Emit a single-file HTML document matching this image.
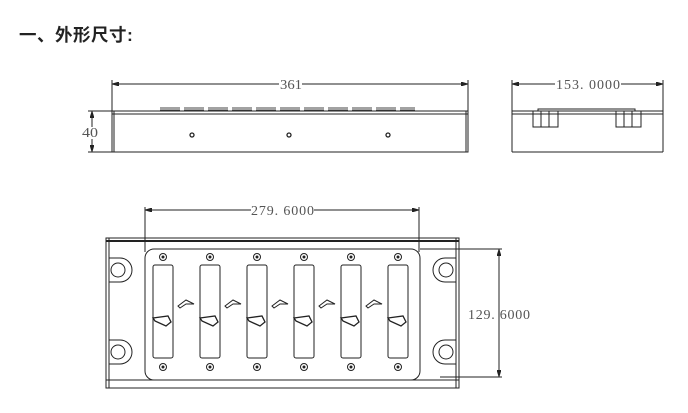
<!DOCTYPE html>
<html><head><meta charset="utf-8"><style>
body{margin:0;background:#fff;width:688px;height:413px;overflow:hidden;position:relative}
.t{position:absolute;left:19px;top:22px;font:bold 17.5px "Liberation Sans","Noto Sans CJK SC",sans-serif;color:#222;letter-spacing:0.5px}
</style></head><body>
<div class="t">一、外形尺寸:</div>
<svg width="688" height="413" style="position:absolute;left:0;top:0" fill="none" stroke="#222" stroke-width="1">
<defs><marker id="a" viewBox="0 0 10 6" refX="10" refY="3" markerWidth="8" markerHeight="4" orient="auto-start-reverse"><path d="M0 0L10 3L0 6z" fill="#222"/></marker></defs>
<g font-family="Liberation Serif,serif" font-size="14" fill="#555" stroke="none">
<text x="280" y="89" textLength="22" lengthAdjust="spacingAndGlyphs">361</text><text x="82" y="137" textLength="16" lengthAdjust="spacingAndGlyphs">40</text>
<text x="556" y="89" textLength="64" lengthAdjust="spacing">153. 0000</text><text x="251" y="215" textLength="63" lengthAdjust="spacing">279. 6000</text>
<text x="468" y="319" textLength="62" lengthAdjust="spacing">129. 6000</text></g>
<!-- front view -->
<line x1="112" y1="84" x2="279" y2="84" marker-start="url(#a)"/><line x1="302" y1="84" x2="468" y2="84" marker-end="url(#a)"/>
<line x1="112" y1="80" x2="112" y2="111"/><line x1="468" y1="80" x2="468" y2="111"/>
<rect x="112" y="111" width="356" height="41"/><line x1="112" y1="114" x2="468" y2="114"/>
<line x1="114" y1="111" x2="114" y2="152"/><line x1="466" y1="111" x2="466" y2="152"/>
<g stroke="#444"><path d="M160 108H180M184 108H204M208 108H228M232 108H252M256 108H276M280 108H300M304 108H324M328 108H348M352 108H372M376 108H396M400 108H415"/><path d="M160 110H415" stroke-dasharray="20 4"/></g>
<line x1="92" y1="111" x2="92" y2="127" marker-start="url(#a)"/><line x1="92" y1="139" x2="92" y2="152" marker-end="url(#a)"/>
<line x1="88" y1="111" x2="112" y2="111"/><line x1="88" y1="152" x2="112" y2="152"/>
<circle cx="192" cy="135" r="2" stroke-width="1.3"/><circle cx="289" cy="135" r="2" stroke-width="1.3"/><circle cx="388" cy="135" r="2" stroke-width="1.3"/>
<!-- side view -->
<line x1="512" y1="84" x2="555" y2="84" marker-start="url(#a)"/><line x1="621" y1="84" x2="663" y2="84" marker-end="url(#a)"/>
<line x1="512" y1="80" x2="512" y2="152"/><line x1="663" y1="80" x2="663" y2="152"/>
<line x1="512" y1="152" x2="663" y2="152"/><line x1="512" y1="111" x2="663" y2="111"/><line x1="512" y1="114" x2="663" y2="114"/>
<rect x="538" y="109" width="97" height="2"/>
<rect x="533" y="111" width="25" height="16"/><line x1="541" y1="111" x2="541" y2="127"/><line x1="549" y1="111" x2="549" y2="127"/>
<rect x="616" y="111" width="25" height="16"/><line x1="624" y1="111" x2="624" y2="127"/><line x1="632" y1="111" x2="632" y2="127"/>
<!-- bottom view -->
<line x1="145" y1="210" x2="251" y2="210" marker-start="url(#a)"/><line x1="314" y1="210" x2="419" y2="210" marker-end="url(#a)"/>
<line x1="145" y1="207" x2="145" y2="252"/><line x1="419" y1="207" x2="419" y2="252"/>
<rect x="106" y="238" width="353" height="150"/><line x1="106" y1="241" x2="459" y2="241" stroke-width="2"/>
<line x1="106" y1="380" x2="459" y2="380"/><line x1="456" y1="238" x2="456" y2="388"/>
<line x1="109" y1="238" x2="109" y2="388"/>
<rect x="145" y="249" width="275" height="131" rx="9"/>
<g id="s"><rect x="153" y="265" width="20" height="93" rx="2"/><circle cx="163" cy="257" r="3.5"/><circle cx="163" cy="257" r="1" fill="#222"/><circle cx="163" cy="367" r="3.5"/><circle cx="163" cy="367" r="1" fill="#222"/>
<path d="M153 318L168 316L171 322L166 326L155 321Z" stroke-width="1.3"/></g>
<use href="#s" x="47"/><use href="#s" x="94"/><use href="#s" x="141"/><use href="#s" x="188"/><use href="#s" x="235"/>
<g id="h"><path d="M178 306L186 300L194 304L186 304L180 308Z"/></g>
<use href="#h" x="47"/><use href="#h" x="94"/><use href="#h" x="141"/><use href="#h" x="188"/>
<path d="M109 258H120A12 12 0 0 1 120 282H109M109 340H120A12 12 0 0 1 120 364H109"/>
<circle cx="118" cy="270" r="7"/><circle cx="118" cy="352" r="7"/>
<path d="M456 258H445A12 12 0 0 0 445 282H456M456 340H445A12 12 0 0 0 445 364H456"/>
<circle cx="446" cy="270" r="7"/><circle cx="446" cy="352" r="7"/>
<line x1="499" y1="249" x2="499" y2="377" marker-start="url(#a)" marker-end="url(#a)"/>
<line x1="420" y1="249" x2="502" y2="249"/><line x1="440" y1="377" x2="502" y2="377"/>
</svg>
</body></html>
